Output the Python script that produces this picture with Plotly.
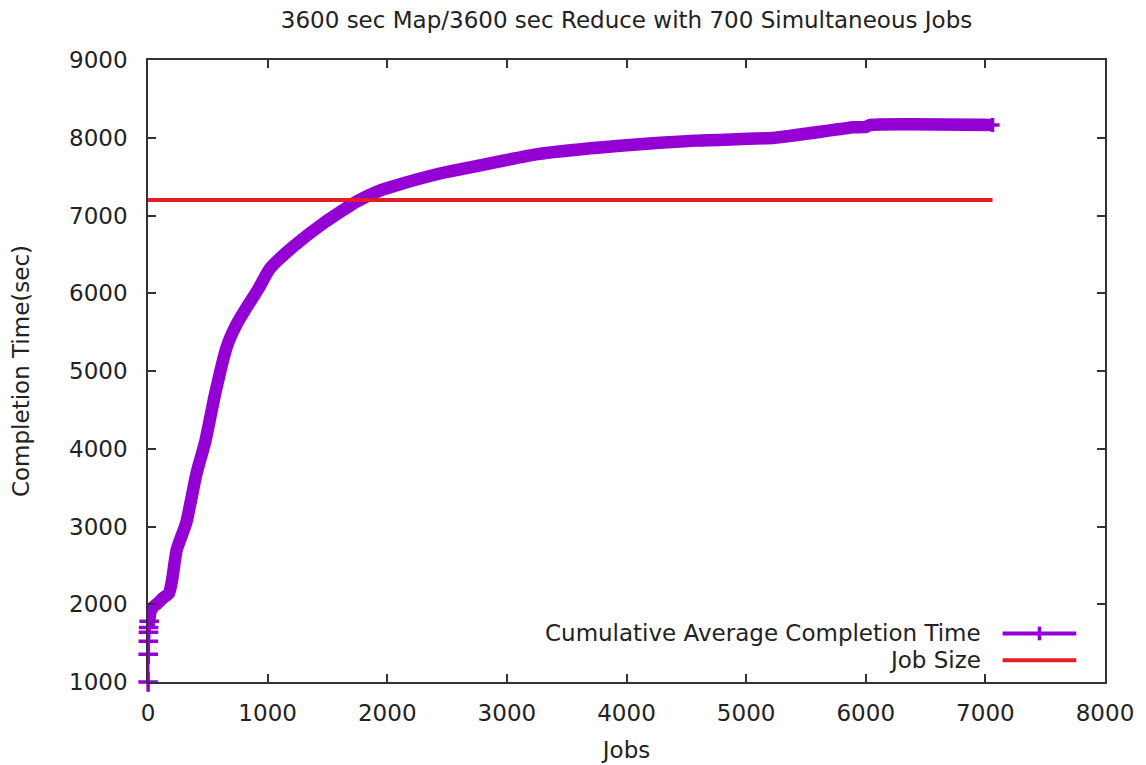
import plotly.graph_objects as go

# jobs completed vs cumulative average completion time
jobs = [1, 2, 3, 4, 5, 10, 20, 40, 80, 125, 175, 200, 240, 320, 405, 480, 560,
        658, 740, 825, 920, 1020, 1215, 1466, 1745, 1937, 2079, 2441, 2598, 3258,
        3919, 4579, 5240, 5900, 6000, 6040, 7060]
avg_time = [1000, 1356, 1523, 1639, 1700, 1780, 1900, 1960, 2010, 2080, 2140,
            2300, 2700, 3050, 3680, 4100, 4700, 5310, 5600, 5820, 6050, 6320,
            6600, 6900, 7180, 7320, 7390, 7540, 7590, 7790, 7895, 7963, 8000,
            8134, 8140, 8165, 8165]

job_size_x = [0, 7060]
job_size_y = [7200, 7200]

PURPLE = "#9400D3"
RED = "#E41E26"
FONT = dict(family="DejaVu Sans", size=23, color="#222")

fig = go.Figure()

# first few jobs: separate points joined by a thin line
fig.add_trace(go.Scatter(
    x=jobs[:6], y=avg_time[:6],
    mode="lines+markers",
    line=dict(color=PURPLE, width=2.5),
    marker=dict(symbol="cross-thin", size=14, line=dict(color=PURPLE, width=3.5)),
    cliponaxis=False,
    showlegend=False,
))

# the rest of the series is so dense it renders as a thick band
fig.add_trace(go.Scatter(
    x=jobs[4:], y=avg_time[4:],
    mode="lines",
    line=dict(color=PURPLE, width=12.5, shape="spline", smoothing=0.5),
    showlegend=False,
))

# last point pokes out past the band
fig.add_trace(go.Scatter(
    x=jobs[-1:], y=avg_time[-1:],
    mode="markers",
    marker=dict(symbol="cross-thin", size=10, line=dict(color=PURPLE, width=3.5)),
    showlegend=False,
))

fig.add_trace(go.Scatter(
    x=job_size_x, y=job_size_y,
    mode="lines",
    line=dict(color=RED, width=4),
    showlegend=False,
))

# gnuplot-style legend: text on the left, sample on the right
legend_rows = [("Cumulative Average Completion Time", PURPLE, 0.078, True),
               ("Job Size", RED, 0.035, False)]
for label, color, ypos, with_point in legend_rows:
    fig.add_annotation(
        text=label, xref="paper", yref="paper", x=0.873, y=ypos,
        xanchor="right", yanchor="middle", showarrow=False, font=FONT,
    )
    fig.add_shape(type="line", xref="paper", yref="paper",
                  x0=0.893, x1=0.970, y0=ypos, y1=ypos,
                  line=dict(color=color, width=4))
    if with_point:
        fig.add_shape(type="line", xref="paper", yref="paper",
                      x0=0.9315, x1=0.9315, y0=ypos - 0.011, y1=ypos + 0.011,
                      line=dict(color=color, width=3.5))

axis_style = dict(
    showline=True, linecolor="#333", linewidth=1.5, mirror="ticks",
    ticks="inside", ticklen=8, tickwidth=1.5, tickcolor="#333",
    showgrid=False, zeroline=False, tickfont=FONT, dtick=1000,
)

# the page body adds an 8px offset, so margins are trimmed to match
fig.update_layout(
    width=1146, height=765,
    margin=dict(l=140, r=49, t=52, b=91),
    paper_bgcolor="white", plot_bgcolor="white",
    title=dict(text="3600 sec Map/3600 sec Reduce with 700 Simultaneous Jobs",
               font=FONT, x=0.5, xref="paper", y=1 - 12 / 765, yref="container",
               xanchor="center", yanchor="middle"),
    xaxis=dict(range=[0, 8000], title=dict(text="Jobs", font=FONT, standoff=17),
               ticklabelstandoff=10, **axis_style),
    yaxis=dict(range=[1000, 9000],
               title=dict(text="Completion Time(sec)", font=FONT, standoff=34),
               ticklabelstandoff=14, **axis_style),
    showlegend=False,
)

fig.write_html("out.html")
